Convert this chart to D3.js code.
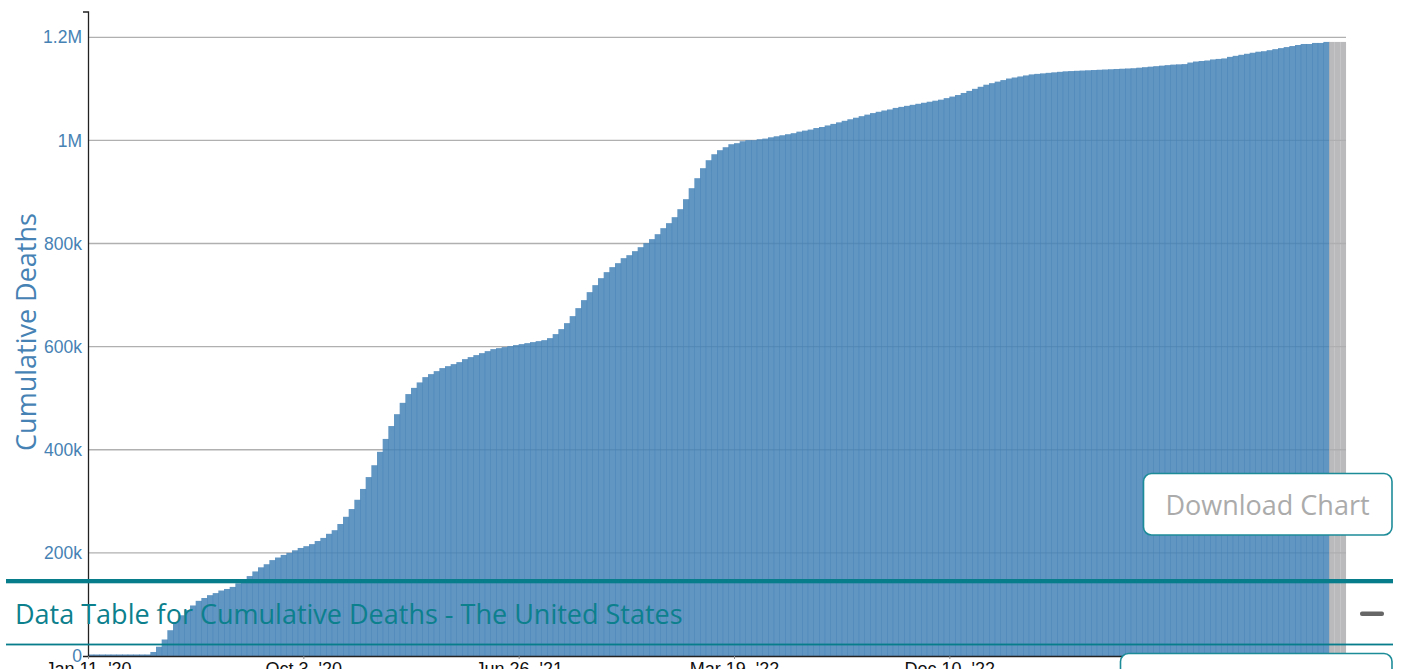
<!DOCTYPE html>
<html>
<head>
<meta charset="utf-8">
<script src="https://cdn.jsdelivr.net/npm/d3@7"></script>
<style>
  html, body { margin: 0; padding: 0; background: #fff; overflow: hidden; }
  svg { display: block; }
</style>
</head>
<body>
<svg id="chart" width="1405" height="669"></svg>
<script>
// ---------------- DATA ----------------
// Weekly categories start at this week-ending date (one bar per week)
const firstWeek = "2020-01-11";

// Cumulative deaths, thousands, one value per week (blue bars)
const cumulativeDeathsK = [
  0, 0, 0, 0, 0, 0, 0, 0, 0.03, 0.5,
  2.5, 7.8, 18, 32, 50, 66, 79, 89, 98, 107,
  112.5, 118, 122, 127, 130, 134, 141, 149, 155, 164,
  172, 178, 186, 191, 196, 200, 205, 209.5, 213, 217,
  223, 229, 237, 244, 256, 270, 285, 303, 324, 347,
  370, 396, 421, 446, 469, 491, 508, 520, 530.6, 540.9,
  546.7, 552.5, 558.4, 562.2, 566.1, 570, 575.8, 579.7, 583.6, 587.4,
  591.3, 595.2, 597.1, 599.1, 601, 603, 604.9, 606.8, 608.8, 610.7,
  612.6, 616.5, 624.3, 634, 645.6, 659.2, 674.7, 690.2, 705.7, 719.3,
  732.8, 744.5, 754.2, 761.9, 771.6, 777.4, 785.2, 792.9, 800.7, 808.5,
  818.1, 829.8, 839.5, 851.1, 866.6, 886, 907.3, 926.7, 946.1, 961.6,
  973.2, 981, 986.8, 992.6, 994.6, 998.4, 1000.4, 1000.4, 1002.3, 1003.5,
  1006, 1008, 1010, 1012, 1014, 1017, 1019, 1021, 1024, 1026,
  1029, 1032, 1035, 1038, 1041, 1044, 1047, 1050, 1053, 1055.5,
  1058, 1060, 1063, 1065, 1067, 1069, 1071, 1073, 1075, 1077,
  1079, 1082, 1085, 1088, 1092, 1096, 1100, 1104, 1108, 1111,
  1114, 1117, 1120, 1122, 1124, 1126, 1128, 1129, 1130, 1131,
  1132, 1133, 1134, 1134.5, 1135, 1135.5, 1136, 1136.5, 1137, 1137.5,
  1138, 1138.5, 1139, 1139.5, 1140, 1141, 1142, 1143, 1144, 1145,
  1146, 1147, 1147.5, 1148, 1151, 1153, 1154, 1155, 1157, 1158,
  1159, 1162, 1164, 1166, 1168, 1170, 1172, 1173, 1175, 1177,
  1179, 1181, 1183, 1185, 1187, 1187, 1189, 1189, 1191
];

// Most recent weeks (grey, incomplete data), thousands
const pendingDeathsK = [1191, 1191, 1191];

// Axis ticks
const yTickValuesK = [0, 200, 400, 600, 800, 1000, 1200];
const xTickDates = ["2020-01-11", "2020-10-03", "2021-06-26", "2022-03-19", "2022-12-10"];
const xTickLabels = ["Jan 11, '20", "Oct 3, '20", "Jun 26, '21", "Mar 19, '22", "Dec 10, '22"];

const yAxisTitle = "Cumulative Deaths";
const tableTitle = "Data Table for Cumulative Deaths - The United States";
const buttonLabel = "Download Chart";

// ---------------- BUILD ----------------
const parse = d3.utcParse("%Y-%m-%d");
const start = parse(firstWeek);
const allVals = cumulativeDeathsK.concat(pendingDeathsK);
const rows = allVals.map((v, i) => ({
  date: d3.utcDay.offset(start, 7 * i),
  value: v,
  pending: i >= cumulativeDeathsK.length
}));

const svg = d3.select("#chart");
const W = 1405, H = 669;
svg.append("rect").attr("width", W).attr("height", H).attr("fill", "#fff");

const x = d3.scaleUtc()
  .domain([start, d3.utcDay.offset(start, 7 * rows.length)])
  .range([88, 1346]);
const y = d3.scaleLinear().domain([0, 1250]).range([656, 11.5]);

const step = x(d3.utcDay.offset(start, 7)) - x(start);

// gridlines
svg.append("g")
  .selectAll("line")
  .data(yTickValuesK.filter(d => d > 0))
  .join("line")
  .attr("x1", x.range()[0]).attr("x2", x.range()[1])
  .attr("y1", d => y(d)).attr("y2", d => y(d))
  .attr("stroke", "#b0b0b0").attr("stroke-width", 1.3);

// bars
svg.append("g")
  .selectAll("rect")
  .data(rows)
  .join("rect")
  .attr("x", d => x(d.date))
  .attr("width", d => d.pending ? step + 0.05 : step + 0.6)
  .attr("y", d => Math.min(y(d.value), y(0) - 1.5))
  .attr("height", d => Math.max(y(0) - y(d.value), 1.5))
  .attr("fill", d => d.pending ? "#aeaeb2" : "#4582b7")
  .attr("fill-opacity", 0.85);

// y axis
const yAxis = d3.axisLeft(y)
  .tickValues(yTickValuesK)
  .tickSizeInner(0)
  .tickSizeOuter(5)
  .tickPadding(6)
  .tickFormat(v => v === 0 ? "0" : (v >= 1000 ? (v / 1000) + "M" : v + "k"));
const gy = svg.append("g").attr("transform", `translate(${x.range()[0]},0)`).call(yAxis);
gy.select(".domain").attr("stroke", "#222").attr("stroke-width", 1.3);
gy.selectAll("text")
  .attr("fill", "#4682b4")
  .attr("font-family", "'Liberation Sans', Arial, sans-serif")
  .attr("font-size", 17.5);

// x axis
const tickDates = xTickDates.map(parse);
const xAxis = d3.axisBottom(x)
  .tickValues(tickDates)
  .tickSizeInner(3)
  .tickSizeOuter(0)
  .tickPadding(3)
  .tickFormat((d, i) => xTickLabels[i]);
const gx = svg.append("g").attr("transform", `translate(0,${y(0)})`).call(xAxis);
gx.select(".domain").attr("stroke", "#222").attr("stroke-width", 1.3);
gx.selectAll(".tick line").attr("stroke", "#888");
gx.selectAll("text")
  .attr("fill", "#111")
  .attr("font-family", "'Liberation Sans', Arial, sans-serif")
  .attr("font-size", 18);

// y axis title
svg.append("text")
  .attr("transform", "translate(36,332) rotate(-90)")
  .attr("text-anchor", "middle")
  .attr("fill", "#4682b4")
  .attr("font-family", "'Open Sans', sans-serif")
  .attr("font-size", 27)
  .text(yAxisTitle);

// ---------------- PAGE OVERLAYS ----------------
const teal = "#077d8b";
// Download Chart button
svg.append("rect")
  .attr("x", 1143.5).attr("y", 473.5).attr("width", 248.5).attr("height", 61.5)
  .attr("rx", 8).attr("fill", "#fff").attr("stroke", "#1d8c99").attr("stroke-width", 1.6);
svg.append("text")
  .attr("x", 1267.5).attr("y", 514.5)
  .attr("text-anchor", "middle")
  .attr("fill", "#ababab")
  .attr("font-family", "'Open Sans', sans-serif")
  .attr("font-size", 27)
  .text(buttonLabel);

// data table header band
svg.append("rect").attr("x", 6).attr("y", 579).attr("width", 1387).attr("height", 4.3).attr("fill", teal);
svg.append("rect").attr("x", 6).attr("y", 643.6).attr("width", 1387).attr("height", 1.8).attr("fill", teal);
svg.append("text")
  .attr("x", 15).attr("y", 624)
  .attr("fill", "#0c808d")
  .attr("font-family", "'Open Sans', sans-serif")
  .attr("font-size", 27)
  .text(tableTitle);
svg.append("rect")
  .attr("x", 1360).attr("y", 611.5).attr("width", 24).attr("height", 4.5).attr("rx", 2)
  .attr("fill", "#666");

// lower panel box
svg.append("rect")
  .attr("x", 1120.5).attr("y", 653.5).attr("width", 271.5).attr("height", 40)
  .attr("rx", 8).attr("fill", "#fff").attr("stroke", "#1d8c99").attr("stroke-width", 1.6);
</script>
</body>
</html>
